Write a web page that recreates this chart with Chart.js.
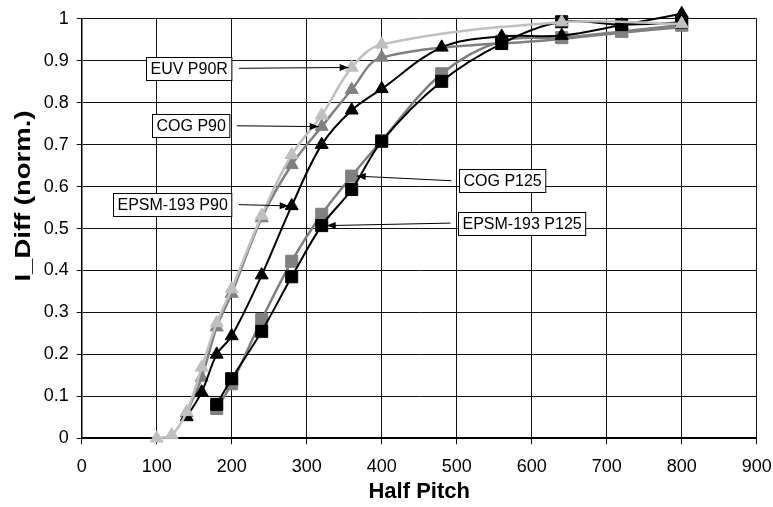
<!DOCTYPE html>
<html>
<head>
<meta charset="utf-8">
<script src="https://cdn.jsdelivr.net/npm/chart.js@4/dist/chart.umd.min.js"></script>
<style>
  html, body { margin: 0; padding: 0; background: #fff; }
  #wrap { width: 773px; height: 507px; }
</style>
</head>
<body>
<div id="wrap"><canvas id="c" width="773" height="507"></canvas></div>
<script>
// ---- Data ----
const xTickLabels = ['0','100','200','300','400','500','600','700','800','900'];
const yTickLabels = ['0','0.1','0.2','0.3','0.4','0.5','0.6','0.7','0.8','0.9','1'];

const euvP90R_x = [100, 120, 140, 160, 180, 200, 240, 280, 320, 360, 400, 640, 800];
const euvP90R_y = [0.0, 0.008, 0.063, 0.169, 0.275, 0.356, 0.531, 0.676, 0.770, 0.884, 0.939, 0.992, 0.988];

const cogP90_x = [140, 160, 180, 200, 240, 280, 320, 360, 400, 640, 720, 800];
const cogP90_y = [0.06, 0.145, 0.265, 0.345, 0.525, 0.652, 0.743, 0.831, 0.908, 0.952, 0.967, 0.980];

const epsmP90_x = [140, 160, 180, 200, 240, 280, 320, 360, 400, 480, 560, 640, 720, 800];
const epsmP90_y = [0.051, 0.110, 0.200, 0.244, 0.389, 0.554, 0.700, 0.782, 0.833, 0.932, 0.958, 0.960, 0.985, 1.012];

const cogP125_x = [180, 200, 240, 280, 320, 360, 400, 480, 560, 640, 720, 800];
const cogP125_y = [0.071, 0.130, 0.283, 0.422, 0.534, 0.625, 0.710, 0.869, 0.947, 0.955, 0.970, 0.985];

const epsmP125_x = [180, 200, 240, 280, 320, 360, 400, 480, 560, 640, 720, 800];
const epsmP125_y = [0.081, 0.142, 0.255, 0.385, 0.507, 0.593, 0.708, 0.851, 0.941, 0.993, 0.986, 0.992];

// callouts: text, box centre in data units, target series and its x value
const calloutText   = ['EUV P90R', 'COG P90', 'EPSM-193 P90', 'COG P125', 'EPSM-193 P125'];
const calloutBoxX   = [142.7, 145, 120.7, 561, 587];
const calloutBoxY   = [0.882, 0.745, 0.557, 0.614, 0.513];
const calloutSeries = ['EUV P90R', 'COG P90', 'EPSM-193 P90', 'COG P125', 'EPSM-193 P125'];
const calloutTarget = [360, 320, 280, 360, 320];

const FONT = '"Liberation Sans", Arial, sans-serif';

function pts(xs, ys) { return xs.map((x, i) => ({ x: x, y: ys[i] })); }

function series(label, xs, ys, color, style, radius, order, lw) {
  return {
    label: label,
    data: pts(xs, ys),
    showLine: true,
    borderColor: color,
    backgroundColor: color,
    pointBackgroundColor: color,
    pointBorderColor: color,
    pointStyle: style,
    pointRadius: radius,
    pointHoverRadius: radius,
    pointBorderWidth: 1,
    borderWidth: lw,
    tension: 0.35,
    clip: false,
    order: order
  };
}

const datasets = [
  series('EUV P90R', euvP90R_x, euvP90R_y, '#c0c0c0', 'triangle', 7.5, 0, 2.5),
  series('EPSM-193 P125', epsmP125_x, epsmP125_y, '#000000', 'rect', 8.5, 1, 2),
  series('EPSM-193 P90', epsmP90_x, epsmP90_y, '#000000', 'triangle', 7.5, 2, 2),
  series('COG P125', cogP125_x, cogP125_y, '#808080', 'rect', 8.5, 3, 2.5),
  series('COG P90', cogP90_x, cogP90_y, '#808080', 'triangle', 7.5, 4, 2.5)
];

const yTitlePlugin = {
  id: 'yTitle',
  afterDraw(chart) {
    const ctx = chart.ctx;
    ctx.save();
    ctx.translate(24, 196);
    ctx.rotate(-Math.PI / 2);
    ctx.scale(1.25, 1);
    ctx.font = 'bold 22px ' + FONT;
    ctx.fillStyle = '#000';
    ctx.textAlign = 'center';
    ctx.textBaseline = 'middle';
    ctx.fillText('I_Diff (norm.)', 0, 0);
    ctx.restore();
  }
};

const calloutPlugin = {
  id: 'callouts',
  afterDatasetsDraw(chart) {
    const ctx = chart.ctx;
    const xs = chart.scales.x, ys = chart.scales.y;
    ctx.save();
    ctx.font = '16px ' + FONT;
    calloutText.forEach((txt, i) => {
      const cx = xs.getPixelForValue(calloutBoxX[i]);
      const cy = ys.getPixelForValue(calloutBoxY[i]);
      const w = ctx.measureText(txt).width + 8;
      const h = 23;
      const left = Math.round(cx - w / 2) + 0.5, top = Math.round(cy - h / 2) + 0.5;
      const ds = datasets.find(d => d.label === calloutSeries[i]);
      const p = ds.data.find(d => d.x === calloutTarget[i]);
      const tx = xs.getPixelForValue(p.x), ty = ys.getPixelForValue(p.y);
      let sx, ex;
      if (tx > cx) { sx = left + w + 7; ex = tx - 3; }
      else { sx = left - 8; ex = tx + 5; }
      const sy = cy;
      ctx.strokeStyle = '#000';
      ctx.lineWidth = 1;
      ctx.beginPath();
      ctx.moveTo(sx, sy);
      ctx.lineTo(ex, ty);
      ctx.stroke();
      const ang = Math.atan2(ty - sy, ex - sx);
      const L = 9, W = 3.5;
      ctx.fillStyle = '#000';
      ctx.beginPath();
      ctx.moveTo(ex, ty);
      ctx.lineTo(ex - L * Math.cos(ang) + W * Math.sin(ang), ty - L * Math.sin(ang) - W * Math.cos(ang));
      ctx.lineTo(ex - L * Math.cos(ang) - W * Math.sin(ang), ty - L * Math.sin(ang) + W * Math.cos(ang));
      ctx.closePath();
      ctx.fill();
      ctx.fillStyle = '#fff';
      ctx.fillRect(left, top, w, h);
      ctx.strokeRect(left, top, w, h);
      ctx.fillStyle = '#000';
      ctx.textAlign = 'center';
      ctx.textBaseline = 'middle';
      ctx.fillText(txt, left + w / 2, top + h / 2 + 1);
    });
    ctx.restore();
  }
};

new Chart(document.getElementById('c'), {
  type: 'scatter',
  data: { datasets: datasets },
  plugins: [calloutPlugin, yTitlePlugin],
  options: {
    responsive: false,
    animation: false,
    events: [],
    layout: { padding: { top: 14.3, right: 16.3, left: 0, bottom: 0 } },
    plugins: { legend: { display: false }, tooltip: { enabled: false } },
    scales: {
      x: {
        type: 'linear',
        min: 0, max: 900,
        afterFit(s) { s.height = 68.7; s.paddingLeft = 0; s.paddingRight = 0; },
        ticks: {
          stepSize: 100,
          color: '#000',
          font: { family: FONT, size: 18 },
          padding: 12,
          maxRotation: 0,
          callback: (v, i) => xTickLabels[i]
        },
        grid: { color: '#111', lineWidth: 1, tickLength: 6 },
        border: { color: '#000', width: 2 },
        title: {
          display: true,
          text: 'Half Pitch',
          color: '#000',
          font: { family: FONT, size: 22, weight: 'bold' },
          padding: { top: 0, bottom: 2 }
        }
      },
      y: {
        type: 'linear',
        min: 0, max: 1,
        afterFit(s) { s.width = 81.7; },
        ticks: {
          stepSize: 0.1,
          color: '#000',
          font: { family: FONT, size: 18 },
          padding: 8,
          callback: (v, i) => yTickLabels[i]
        },
        grid: { color: '#111', lineWidth: 1, tickLength: 5 },
        border: { color: '#000', width: 1.5 }
      }
    }
  }
});
</script>
</body>
</html>
